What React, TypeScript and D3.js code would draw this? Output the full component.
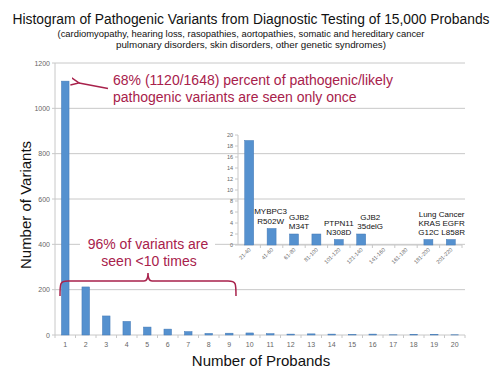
import React from "react";
import * as d3 from "d3";

const mainCategories = ["1","2","3","4","5","6","7","8","9","10","11","12","13","14","15","16","17","18","19","20"];
const mainValues = [1120, 212, 84, 60, 35, 26, 15, 7, 8, 9, 6, 4, 5, 4, 2, 4, 1, 3, 3, 1];
const mainTicks = [0, 200, 400, 600, 800, 1000, 1200];

const insetCategories = ["21-40","41-60","61-80","81-100","101-120","121-140","141-160","161-180","181-200","201-220"];
const insetValues = [19, 3, 2, 2, 1, 2, 0, 0, 1, 1];
const insetTicks = [0, 2, 4, 6, 8, 10, 12, 14, 16, 18, 20];

const insetNotes = [
  { cat: "41-60", lines: ["MYBPC3", "R502W"], top: 214.3, dx: -1 },
  { cat: "61-80", lines: ["GJB2", "M34T"], top: 220, dx: 5 },
  { cat: "101-120", lines: ["PTPN11", "N308D"], top: 226, dx: 0 },
  { cat: "121-140", lines: ["GJB2", "35delG"], top: 220, dx: 9 },
];
const lungNote = ["Lung Cancer", "KRAS EGFR", "G12C L858R"];

const FONT = "'Liberation Sans', Arial, sans-serif";
const RED = "#A8214B";
const BAR = "#5591CF";
const BAR_STROKE = "#4379B5";
const GRID = "#C8C8C8";
const TICK = "#666";

export default function App() {
  const x = d3.scaleBand<string>().domain(mainCategories).range([55, 465]).paddingInner(0.63).paddingOuter(0.315);
  const y = d3.scaleLinear().domain([0, 1200]).range([335, 63]);
  const step = x.step();

  const ix = d3.scaleBand<string>().domain(insetCategories).range([238, 462]).paddingInner(0.6).paddingOuter(0.3);
  const iy = d3.scaleLinear().domain([0, 20]).range([245, 135]);
  const istep = ix.step();
  const lungX = (ix("181-200")! + ix("201-220")! + ix.bandwidth()) / 2 + 2;

  // brace geometry
  const bx0 = 60, bx1 = 236, by = 281, bmid = 148;
  const brace = `M${bx0},${by + 15} C${bx0},${by + 2} ${bx0},${by} ${bx0 + 8},${by} L${bmid - 4},${by} C${bmid - 1},${by} ${bmid},${by - 3} ${bmid},${by - 8} C${bmid},${by - 3} ${bmid + 1},${by} ${bmid + 4},${by} L${bx1 - 8},${by} C${bx1},${by} ${bx1},${by + 2} ${bx1},${by + 15}`;

  return (
    <svg width={500} height={375} style={{ position: "absolute", left: 0, top: 0, background: "#fff" }} fontFamily={FONT}>
      <defs>
        <marker id="ah" viewBox="0 0 10 10" refX="1" refY="5" markerWidth="6" markerHeight="6" orient="auto-start-reverse">
          <path d="M10,1 L1,5 L10,9" fill="none" stroke={RED} strokeWidth={1.6} />
        </marker>
      </defs>
      {/* titles */}
      <text x={251} y={24} textAnchor="middle" fontSize={14} fill="#111" textLength={477} lengthAdjust="spacingAndGlyphs">Histogram of Pathogenic Variants from Diagnostic Testing of 15,000 Probands</text>
      <text x={241} y={37} textAnchor="middle" fontSize={9.5} fill="#111" textLength={367} lengthAdjust="spacingAndGlyphs">(cardiomyopathy, hearing loss, rasopathies, aortopathies, somatic and hereditary cancer</text>
      <text x={251} y={48} textAnchor="middle" fontSize={9.5} fill="#111" textLength={270} lengthAdjust="spacingAndGlyphs">pulmonary disorders, skin disorders, other genetic syndromes)</text>

      {/* main gridlines */}
      {mainTicks.map((t) => (
        <g key={t}>
          {t > 0 && <line x1={55} x2={465} y1={y(t)} y2={y(t)} stroke={GRID} strokeWidth={1} />}
          <line x1={52} x2={55} y1={y(t)} y2={y(t)} stroke={GRID} />
          <text x={50} y={y(t) + 2.5} textAnchor="end" fontSize={7} fill={TICK}>{t}</text>
        </g>
      ))}
      <line x1={55} x2={55} y1={y(1200)} y2={y(0)} stroke={GRID} />
      <line x1={55} x2={465} y1={y(0)} y2={y(0)} stroke={GRID} />
      {mainCategories.map((c, i) => (
        <line key={"tk" + c} x1={55 + (i + 1) * step} x2={55 + (i + 1) * step} y1={y(0)} y2={y(0) + 3} stroke={GRID} />
      ))}
      <line x1={55} x2={55} y1={y(0)} y2={y(0) + 3} stroke={GRID} />
      {mainCategories.map((c) => (
        <text key={"xl" + c} x={x(c)! + x.bandwidth() / 2} y={347} textAnchor="middle" fontSize={7} fill={TICK}>{c}</text>
      ))}
      {mainValues.map((v, i) => (
        <rect key={"b" + i} x={x(mainCategories[i])!} y={y(v)} width={x.bandwidth()} height={y(0) - y(v)} fill={BAR} stroke={BAR_STROKE} strokeWidth={0.5} />
      ))}

      {/* axis titles */}
      <text transform="translate(31,205) rotate(-90)" textAnchor="middle" fontSize={15} fill="#111">Number of Variants</text>
      <text x={261} y={366} textAnchor="middle" fontSize={15} fill="#111">Number of Probands</text>

      {/* inset */}
      <line x1={238} x2={238} y1={iy(20)} y2={iy(0)} stroke={GRID} />
      <line x1={238} x2={462} y1={iy(0)} y2={iy(0)} stroke={GRID} />
      {insetTicks.map((t) => (
        <g key={"it" + t}>
          <line x1={235} x2={238} y1={iy(t)} y2={iy(t)} stroke={GRID} />
          <text x={233} y={iy(t) + 2} textAnchor="end" fontSize={5.5} fill={TICK}>{t}</text>
        </g>
      ))}
      {insetCategories.map((c, i) => (
        <line key={"itk" + c} x1={238 + (i + 1) * istep} x2={238 + (i + 1) * istep} y1={iy(0)} y2={iy(0) + 3} stroke={GRID} />
      ))}
      {insetCategories.map((c) => (
        <text key={"ixl" + c} transform={`translate(${ix(c)! + ix.bandwidth() / 2 + 2},${iy(0) + 5}) rotate(-45)`} textAnchor="end" fontSize={5.5} fill={TICK}>{c}</text>
      ))}
      {insetValues.map((v, i) => v > 0 && (
        <rect key={"ib" + i} x={ix(insetCategories[i])!} y={iy(v)} width={ix.bandwidth()} height={iy(0) - iy(v)} fill={BAR} stroke={BAR_STROKE} strokeWidth={0.5} />
      ))}
      {insetNotes.map((n) => {
        const cx = ix(n.cat)! + ix.bandwidth() / 2 + n.dx;
        return (
          <text key={n.cat} x={cx} y={n.top} textAnchor="middle" fontSize={8} fill="#111">
            {n.lines.map((l, j) => (
              <tspan key={j} x={cx} dy={j === 0 ? 0 : 9.4}>{l}</tspan>
            ))}
          </text>
        );
      })}
      <text x={lungX} y={216.7} textAnchor="middle" fontSize={8} fill="#111">
        {lungNote.map((l, j) => (
          <tspan key={j} x={lungX} dy={j === 0 ? 0 : 9.3}>{l}</tspan>
        ))}
      </text>

      {/* annotation 1 */}
      <line x1={108} y1={88.5} x2={79} y2={83} stroke={RED} strokeWidth={1.5} markerEnd="url(#ah)" />
      <text x={113} y={85} fontSize={14} fill={RED}>68% (1120/1648) percent of pathogenic/likely</text>
      <text x={113} y={101.5} fontSize={14} fill={RED}>pathogenic variants are seen only once</text>

      {/* annotation 2 */}
      <rect x={80} y={235} width={135} height={36} fill="#fff" />
      <text x={148} y={249} textAnchor="middle" fontSize={14} fill={RED}>96% of variants are</text>
      <text x={149} y={266} textAnchor="middle" fontSize={14} fill={RED}>seen &lt;10 times</text>
      <path d={brace} fill="none" stroke={RED} strokeWidth={1.5} />
    </svg>
  );
}
